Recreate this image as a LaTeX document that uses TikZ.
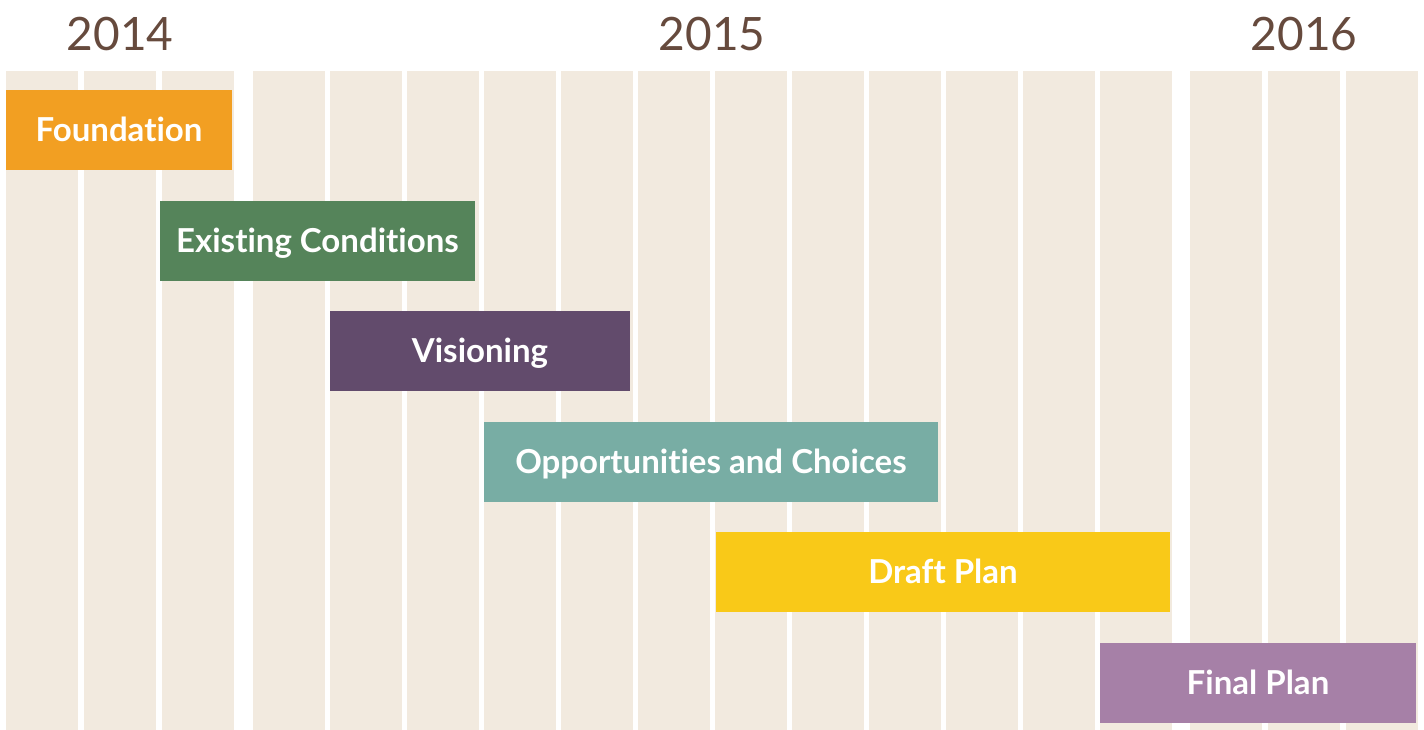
\documentclass[tikz,border=0pt]{standalone}
\usepackage{fontspec}
\setmainfont{Lato}[Ligatures={NoCommon}]
\definecolor{colbg}{HTML}{F2EADF}
\definecolor{yearc}{HTML}{664A3D}
\definecolor{cfound}{HTML}{F29F22}
\definecolor{cexist}{HTML}{55845A}
\definecolor{cvision}{HTML}{624B6C}
\definecolor{copp}{HTML}{78ADA4}
\definecolor{cdraft}{HTML}{F9C918}
\definecolor{cfinal}{HTML}{A680A7}
\tikzset{
  colbar/.style={fill=colbg, draw=none},
  phase/.style={draw=none, inner sep=0pt, outer sep=0pt, minimum height=80pt,
    text=white, font=\fontsize{33}{33}\selectfont\bfseries, text height=23pt, text depth=0pt},
  year/.style={text=yearc, font=\fontsize{46}{46}\selectfont, inner sep=0pt, text height=33pt, text depth=0pt}
}
\begin{document}
\begin{tikzpicture}[x=1pt,y=-1pt]
\useasboundingbox (0,0) rectangle (1424,730);
% month columns
\foreach \x in {6,84,162, 253,330,407,484,561,638,715,792,869,946,1023,1100, 1190,1268,1346}
  \fill[colbar] (\x,71) rectangle ++(72,659);
% years
\node[year] (y2014) at (120,34.5) {2014};
\node[year] (y2015) at (712,34.5) {2015};
\node[year] (y2016) at (1304,34.5) {2016};
% phases
\node[phase, fill=cfound, minimum width=226pt] (found) at (119,130) {Foundation};
\node[phase, fill=cexist, minimum width=315pt] (exist) at (317.5,241) {Existing Conditions};
\node[phase, fill=cvision, minimum width=300pt] (vision) at (480,351) {Visioning};
\node[phase, fill=copp, minimum width=454pt] (opp) at (711,462) {Opportunities and Choices};
\node[phase, fill=cdraft, minimum width=454pt] (draft) at (943,572) {Draft Plan};
\node[phase, fill=cfinal, minimum width=316pt] (final) at (1258,683) {Final Plan};
\end{tikzpicture}
\end{document}
